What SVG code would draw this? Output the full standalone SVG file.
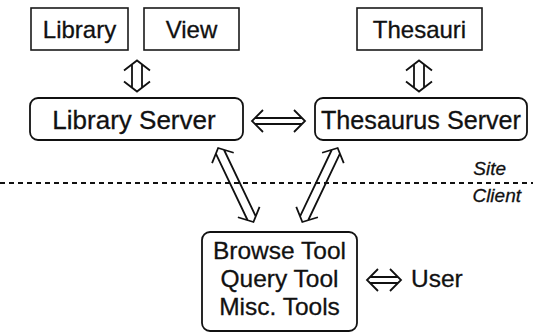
<svg xmlns="http://www.w3.org/2000/svg" width="533" height="333" viewBox="0 0 533 333">
<style>
  text { font-family: "Liberation Sans", Arial, sans-serif; fill: #111; stroke: #111; stroke-width: 0.3; }
  .box { fill: #fff; stroke: #1a1a1a; stroke-width: 1.6; }
  .rbox { fill: #fff; stroke: #111; stroke-width: 1.8; }
  .t24 { font-size: 24px; text-anchor: middle; }
  .t26 { font-size: 26px; text-anchor: middle; }
  .t24b { font-size: 24.5px; text-anchor: middle; }
  .lab { font-size: 19px; font-style: italic; text-anchor: end; }
  .arr { fill: none; stroke: #111; stroke-width: 1.8; stroke-linejoin: miter; stroke-linecap: butt; }
  .sep { stroke: #111; stroke-width: 2; stroke-dasharray: 5 4; }
</style>
<rect width="533" height="333" fill="#fff"/>

<line class="sep" x1="0" y1="183" x2="533" y2="183"/>
<text class="lab" x="506" y="175">Site</text>
<text class="lab" x="521" y="202">Client</text>

<g id="library">
  <rect class="box" x="31" y="8" width="97" height="42"/>
  <text class="t24" x="79.5" y="38">Library</text>
</g>
<g id="view">
  <rect class="box" x="144" y="8" width="95" height="42"/>
  <text class="t24" x="191.5" y="38">View</text>
</g>
<g id="thesauri">
  <rect class="box" x="357" y="8" width="125" height="42"/>
  <text class="t24" x="419.5" y="38">Thesauri</text>
</g>
<g id="library-server">
  <rect class="rbox" x="30" y="98" width="213" height="42" rx="8"/>
  <text class="t26" x="134" y="129">Library Server</text>
</g>
<g id="thesaurus-server">
  <rect class="rbox" x="315" y="98" width="212" height="42" rx="8"/>
  <text class="t26" x="421" y="129" style="font-size:25px" textLength="200" lengthAdjust="spacingAndGlyphs">Thesaurus Server</text>
</g>
<g id="tools">
  <rect class="rbox" x="202" y="232" width="155" height="99" rx="8"/>
  <text class="t24b" x="279.5" y="259">Browse Tool</text>
  <text class="t24b" x="279.5" y="287">Query Tool</text>
  <text class="t24b" x="279.5" y="315">Misc. Tools</text>
</g>
<g id="user">
  <text x="411" y="287" style="font-size:24.5px">User</text>
</g>

<g id="connectors">
  <path class="arr" transform="translate(137,76) rotate(90)" d="M-5.5,-13 L-15.5,0 L-5.5,13 M5.5,-13 L15.5,0 L5.5,13 M-11.7,-5 H11.7 M-11.7,5 H11.7"/>
  <path class="arr" transform="translate(419,76) rotate(90)" d="M-5.5,-13 L-15.5,0 L-5.5,13 M5.5,-13 L15.5,0 L5.5,13 M-11.7,-5 H11.7 M-11.7,5 H11.7"/>
  <path class="arr" transform="translate(278.5,121)" d="M-15.5,-11 L-26.5,0 L-15.5,11 M15.5,-11 L26.5,0 L15.5,11 M-23.5,-3 H23.5 M-23.5,3 H23.5"/>
  <path class="arr" transform="translate(235.8,185) rotate(64.5)" d="M-30,-12 L-41,0 L-30,12 M30,-12 L41,0 L30,12 M-36.9,-4.5 H36.9 M-36.9,4.5 H36.9"/>
  <path class="arr" transform="translate(320,185) rotate(115.5)" d="M-30,-12 L-41,0 L-30,12 M30,-12 L41,0 L30,12 M-36.9,-4.5 H36.9 M-36.9,4.5 H36.9"/>
  <path class="arr" transform="translate(384,280)" d="M-6,-11 L-17,0 L-6,11 M6,-11 L17,0 L6,11 M-14,-3 H14 M-14,3 H14"/>
</g>
</svg>
